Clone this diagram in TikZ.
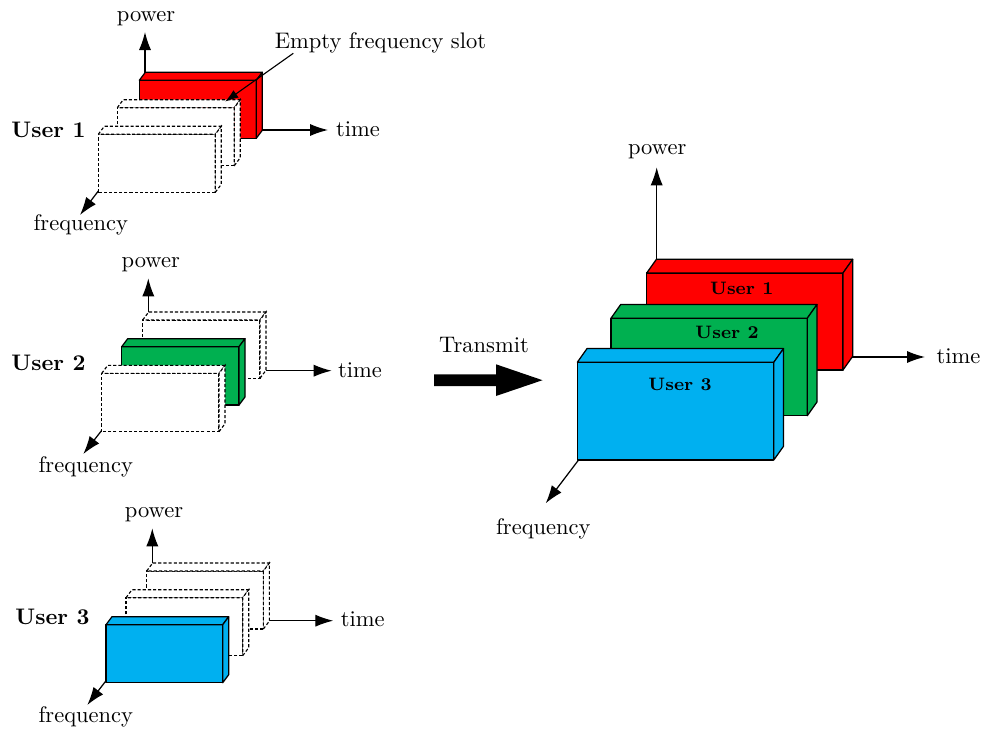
\documentclass[tikz,border=0pt]{standalone}
\usetikzlibrary{arrows.meta}
\definecolor{ured}{RGB}{255,0,0}
\definecolor{ugreen}{RGB}{0,176,80}
\definecolor{ublue}{RGB}{0,176,240}
\tikzset{
  solidslab/.style={draw=black, line width=0.55pt, line join=round},
  emptyslab/.style={draw=black, fill=white, line width=0.5pt, dash pattern=on 1.4pt off 0.9pt},
  axis/.style={line width=0.55pt, -{Latex[length=8pt,width=5.4pt]}},
  pointer/.style={line width=0.5pt, -{Latex[length=6pt,width=4pt]}},
  lbl/.style={inner sep=0pt},
  ulbl/.style={font=\bfseries, inner sep=0pt},
  inlbl/.style={font=\footnotesize\bfseries, inner sep=0pt},
}
% style, x, y (front lower left corner), width, height, depth dx, depth dy
\newcommand{\slab}[7]{%
  \path[#1] (#2,#3) rectangle ++(#4,-#5);
  \path[#1] (#2,#3) ++(0,-#5) -- ++(#6,-#7) -- ++(#4,0) -- ++(-#6,#7) -- cycle;
  \path[#1] (#2,#3) ++(#4,0) -- ++(#6,-#7) -- ++(0,-#5) -- ++(-#6,#7) -- cycle;
}
\begin{document}
\begin{tikzpicture}[x=0.4444pt, y=-0.4444pt]
\useasboundingbox (0,0) rectangle (982,731);

% ================= User 1 =================
\coordinate (o1) at (145,130);
\coordinate (p1) at (145,32);
\coordinate (t1) at (328,130);
\coordinate (f1) at (80,215);
\draw[axis] (o1) -- (p1);
\draw[axis] (o1) -- (t1);
\draw[axis] (o1) -- (f1);
\slab{solidslab,fill=ured}{139.3}{138.3}{117}{58}{6}{8}
\slab{emptyslab}{117.3}{165.7}{117}{58}{6}{8}
\slab{emptyslab}{98.3}{192.3}{117}{58}{6}{8}
\node[lbl] (pow1) at (146,18.3) {power};
\node[lbl] (time1) at (358,129.5) {time};
\node[lbl] (freq1) at (80.8,224.5) {frequency};
\node[ulbl] (user1) at (48.5,129.5) {User 1};
\node[lbl] (empty) at (380.5,43) {Empty frequency slot};
\coordinate (emptyfrom) at (293.3,53.3);
\coordinate (emptyto) at (225,101.7);
\draw[pointer] (emptyfrom) -- (emptyto);

% ================= User 2 =================
\coordinate (o2) at (148.3,370.7);
\coordinate (p2) at (148.3,278.3);
\coordinate (t2) at (331.7,370.7);
\coordinate (f2) at (83.3,454);
\draw[axis] (o2) -- (p2);
\draw[axis] (o2) -- (t2);
\draw[axis] (o2) -- (f2);
\slab{emptyslab}{142.7}{378.3}{117.3}{58.3}{6}{8}
\slab{solidslab,fill=ugreen}{121.7}{405}{117.3}{58.3}{6}{8}
\slab{emptyslab}{101.7}{431.7}{117.3}{58.3}{6}{8}
\node[lbl] (pow2) at (150.8,265) {power};
\node[lbl] (time2) at (360,370) {time};
\node[lbl] (freq2) at (85.8,466.7) {frequency};
\node[ulbl] (user2) at (48.5,363) {User 2};

% ================= User 3 =================
\coordinate (o3) at (152.3,620.7);
\coordinate (p3) at (152.3,528.3);
\coordinate (t3) at (333.3,620.7);
\coordinate (f3) at (87.3,705);
\draw[axis] (o3) -- (p3);
\draw[axis] (o3) -- (t3);
\draw[axis] (o3) -- (f3);
\slab{emptyslab}{146.7}{629}{116.7}{58}{6}{8}
\slab{emptyslab}{126}{655.7}{116.7}{58}{6}{8}
\slab{solidslab,fill=ublue}{106}{682.7}{116.7}{58}{6}{8}
\node[lbl] (pow3) at (154,515) {power};
\node[lbl] (time3) at (362.8,619) {time};
\node[lbl] (freq3) at (85.8,716.7) {frequency};
\node[ulbl] (user3) at (52.5,617) {User 3};

% ================= Transmit =================
\node[lbl] (transmit) at (484,345.5) {Transmit};
\fill[black] (434,374.3) -- (496,374.3) -- (496,364.3) -- (542.5,380.2)
  -- (496,396) -- (496,386) -- (434,386) -- cycle;

% ================= Combined =================
\coordinate (o4) at (656.7,357);
\coordinate (p4) at (656.7,167.3);
\coordinate (t4) at (925,357);
\coordinate (f4) at (545.7,503.3);
\draw[axis] (o4) -- (p4);
\draw[axis] (o4) -- (t4);
\draw[axis] (o4) -- (f4);
\slab{solidslab,fill=ured}{646.7}{370}{196.3}{97}{9.7}{13.7}
\slab{solidslab,fill=ugreen}{611}{415.7}{196.3}{97.5}{9.7}{13.7}
\slab{solidslab,fill=ublue}{577.3}{460}{196.5}{97.7}{9.7}{13.7}
\node[inlbl] (in1) at (741.7,288.3) {User 1};
\node[inlbl] (in2) at (727,332.3) {User 2};
\node[inlbl] (in3) at (680,384.3) {User 3};
\node[lbl] (pow4) at (657.2,152) {power};
\node[lbl] (time4) at (958.5,356) {time};
\node[lbl] (freq4) at (543.3,529.3) {frequency};
\end{tikzpicture}
\end{document}
